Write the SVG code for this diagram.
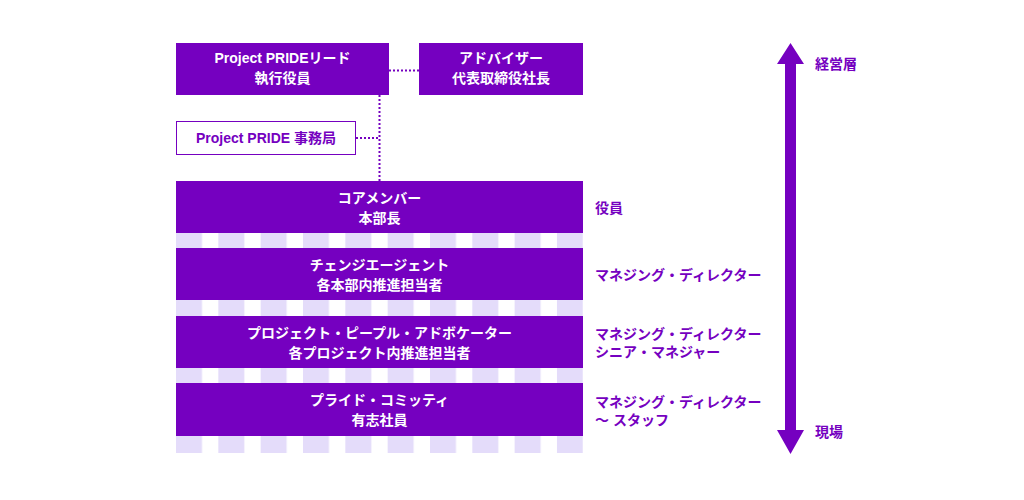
<svg xmlns="http://www.w3.org/2000/svg" width="1024" height="500" viewBox="0 0 1024 500">
<defs>
<style>
.box{fill:#7500C0;}
.obox{fill:#ffffff;stroke:#7500C0;stroke-width:1;}
.t{font-family:"Liberation Sans","Noto Sans CJK JP",sans-serif;font-size:14px;font-weight:bold;fill:#ffffff;text-anchor:middle;}
.p{font-family:"Liberation Sans","Noto Sans CJK JP",sans-serif;font-size:14px;font-weight:bold;fill:#7500C0;}
.pc{text-anchor:middle;}
.dot{stroke:#7500C0;stroke-width:2;stroke-dasharray:2 2;fill:none;}
.lav{fill:#E4DCFA;}
</style>
<pattern id="stripe" x="176" y="0" width="42.33" height="20" patternUnits="userSpaceOnUse">
<rect x="0" y="0" width="26" height="20" class="lav"/>
</pattern>
</defs>
<rect x="0" y="0" width="1024" height="500" fill="#ffffff"/>

<g id="stripes">
<rect x="176" y="233" width="407" height="15" fill="url(#stripe)"/>
<rect x="176" y="300" width="407" height="16" fill="url(#stripe)"/>
<rect x="176" y="368" width="407" height="15" fill="url(#stripe)"/>
<rect x="176" y="436" width="407" height="17" fill="url(#stripe)"/>
</g>

<g id="connectors">
<line class="dot" x1="389" y1="70.5" x2="419" y2="70.5"/>
<line class="dot" x1="379.5" y1="95" x2="379.5" y2="181"/>
<line class="dot" x1="356" y1="138" x2="379" y2="138"/>
</g>

<g id="lead">
<rect class="box" x="176" y="43" width="213" height="52"/>
<text class="t" x="282.5" y="63">Project PRIDEリード</text>
<text class="t" x="282.5" y="83">執行役員</text>
</g>

<g id="advisor">
<rect class="box" x="419" y="43" width="164" height="52"/>
<text class="t" x="501" y="63">アドバイザー</text>
<text class="t" x="501" y="83">代表取締役社長</text>
</g>

<g id="office">
<rect class="obox" x="176.5" y="121.5" width="179" height="33"/>
<text class="p pc" x="266" y="143">Project PRIDE 事務局</text>
</g>

<g id="core">
<rect class="box" x="176" y="181" width="407" height="52"/>
<text class="t" x="379.5" y="203">コアメンバー</text>
<text class="t" x="379.5" y="223">本部長</text>
</g>

<g id="change">
<rect class="box" x="176" y="248" width="407" height="52"/>
<text class="t" x="379.5" y="270">チェンジエージェント</text>
<text class="t" x="379.5" y="290">各本部内推進担当者</text>
</g>

<g id="advocate">
<rect class="box" x="176" y="316" width="407" height="52"/>
<text class="t" x="379.5" y="338">プロジェクト・ピープル・アドボケーター</text>
<text class="t" x="379.5" y="358">各プロジェクト内推進担当者</text>
</g>

<g id="committee">
<rect class="box" x="176" y="383" width="407" height="53"/>
<text class="t" x="379.5" y="405">プライド・コミッティ</text>
<text class="t" x="379.5" y="425">有志社員</text>
</g>

<g id="labels">
<text class="p" x="595" y="213">役員</text>
<text class="p" x="595" y="280">マネジング・ディレクター</text>
<text class="p" x="595" y="339">マネジング・ディレクター</text>
<text class="p" x="595" y="357">シニア・マネジャー</text>
<text class="p" x="595" y="407">マネジング・ディレクター</text>
<text class="p" x="595" y="425">〜 スタッフ</text>
</g>

<g id="scale">
<polygon fill="#7500C0" points="790.5,43 804,64 796,64 796,430 804,430 790.5,454 777,430 785,430 785,64 777,64"/>
<text class="p" x="815" y="69">経営層</text>
<text class="p" x="815" y="437">現場</text>
</g>
</svg>
